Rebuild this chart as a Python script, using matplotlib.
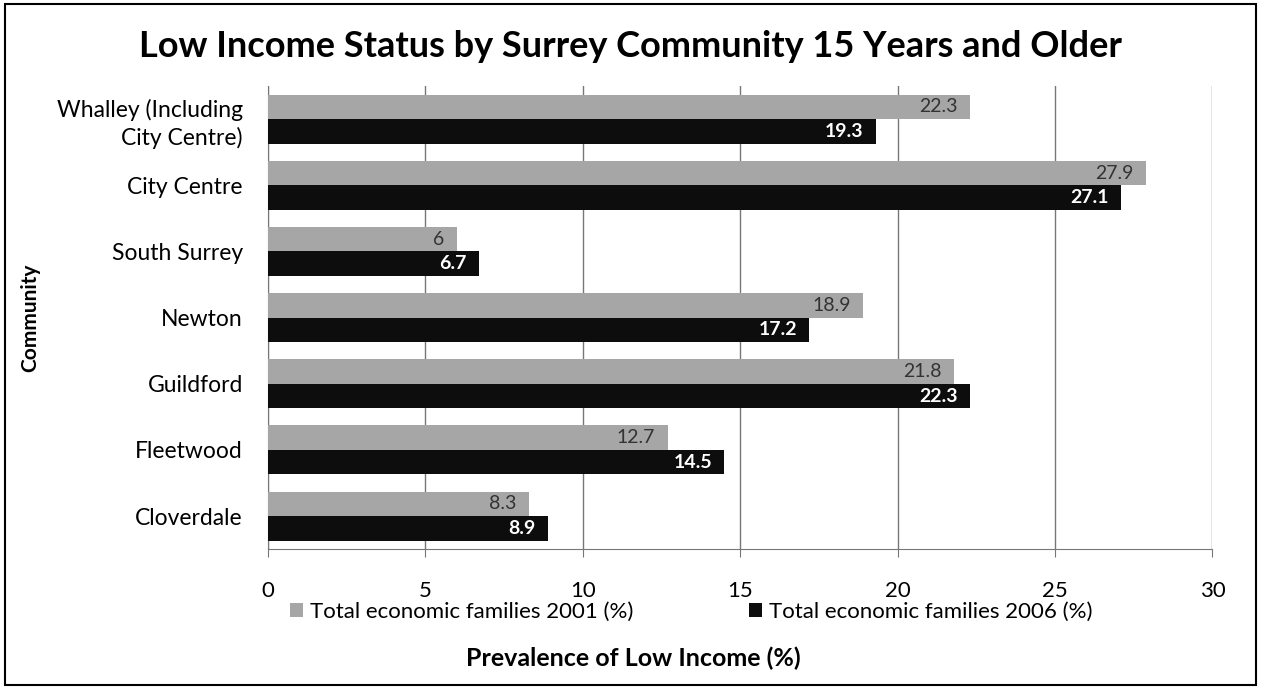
import matplotlib
matplotlib.use("Agg")
import matplotlib.pyplot as plt
import numpy as np
from matplotlib.patches import Rectangle

# data (top to bottom as shown)
communities = ["Whalley (Including\nCity Centre)", "City Centre", "South Surrey",
               "Newton", "Guildford", "Fleetwood", "Cloverdale"]
pct_2001 = [22.3, 27.9, 6, 18.9, 21.8, 12.7, 8.3]
pct_2006 = [19.3, 27.1, 6.7, 17.2, 22.3, 14.5, 8.9]
label_2001 = ["22.3", "27.9", "6", "18.9", "21.8", "12.7", "8.3"]
label_2006 = ["19.3", "27.1", "6.7", "17.2", "22.3", "14.5", "8.9"]
series_names = ["Total economic families 2001 (%)", "Total economic families 2006 (%)"]

plt.rcParams['font.family'] = ['Lato', 'DejaVu Sans']

fig = plt.figure(figsize=(12.61, 6.89), dpi=100)
ax = fig.add_axes([0.2125, 0.203, 0.749, 0.672])

n = len(communities)
y = np.arange(n)[::-1]  # first category at top
h = 0.37
gray = "#a6a6a6"
black = "#0d0d0d"

b1 = ax.barh(y + h / 2, pct_2001, height=h, color=gray, label=series_names[0], zorder=3)
b2 = ax.barh(y - h / 2, pct_2006, height=h, color=black, label=series_names[1], zorder=3)

for yi, v, t in zip(y, pct_2001, label_2001):
    ax.annotate(t, (v, yi + h / 2), xytext=(-9, 0), textcoords="offset points",
                ha="right", va="center", fontsize=14, color="#333333", zorder=4)
for yi, v, t in zip(y, pct_2006, label_2006):
    ax.annotate(t, (v, yi - h / 2), xytext=(-9, 0), textcoords="offset points",
                ha="right", va="center", fontsize=14, color="white",
                fontweight="bold", zorder=4)

ax.set_xlim(0, 30)
ax.set_ylim(-0.5, n - 0.5)
ax.set_xticks([0, 5, 10, 15, 20, 25, 30])
ax.set_yticks(y)
ax.set_yticklabels(communities, fontsize=16.5, linespacing=1.3)
ax.tick_params(axis="x", labelsize=16, length=6, color="#777777", pad=17, direction="out")
ax.tick_params(axis="y", length=0, pad=18)
ax.grid(axis="x", color="#777777", linewidth=1, zorder=0)
for s in ["top", "right"]:
    ax.spines[s].set_visible(False)
ax.spines["left"].set_color("#777777")
ax.spines["bottom"].set_color("#777777")

ax.set_ylabel("Community", fontsize=15, fontweight="bold")
ax.yaxis.set_label_coords(-0.241, 0.5)

fig.text(0.5, 0.932, "Low Income Status by Surrey Community 15 Years and Older",
         ha="center", va="center", fontsize=26, fontweight="bold")

fig.legend(handles=[b1, b2], loc="center", bbox_to_anchor=(0.548, 0.112), ncol=2,
           frameon=False, fontsize=16, handlelength=0.6, handleheight=0.6,
           handletextpad=0.3, columnspacing=5.2)

fig.text(0.502, 0.045, "Prevalence of Low Income (%)", ha="center", va="center",
         fontsize=18, fontweight="bold")

fig.patches.append(Rectangle((0.004, 0.006), 0.992, 0.988, transform=fig.transFigure,
                             fill=False, edgecolor="black", linewidth=1.5))

fig.savefig("out.png", dpi=100)
